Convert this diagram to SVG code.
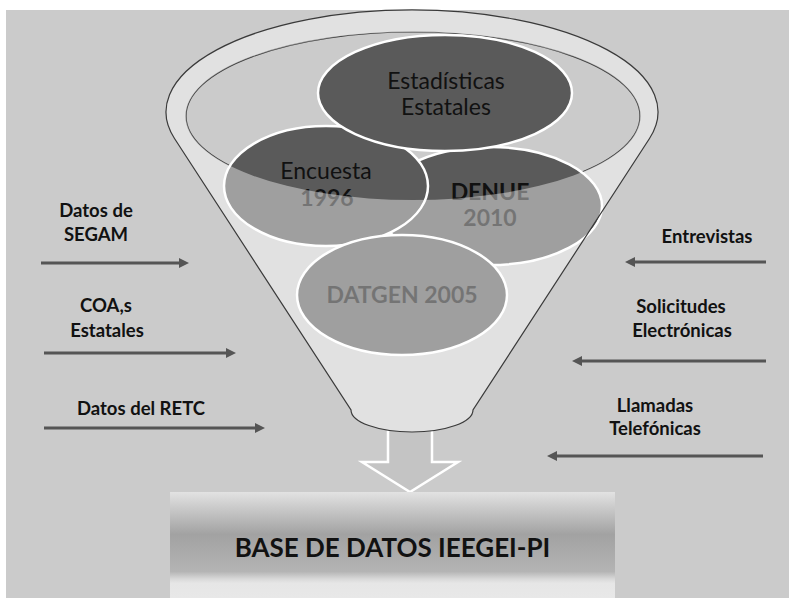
<svg xmlns="http://www.w3.org/2000/svg" width="789" height="598" viewBox="0 0 789 598">
<defs>
<style>
.lbl{font-family:Lato,"Liberation Sans",sans-serif;font-weight:bold;font-size:18.5px;fill:#111;text-anchor:middle}
.ctext{font-family:Lato,"Liberation Sans",sans-serif;font-size:23px;fill:#111;text-anchor:middle}
.b{font-weight:bold}
.circ{fill:#5a5a5a;stroke:#ffffff;stroke-width:2.5}
.conn{stroke:#555555;stroke-width:3;fill:none;marker-end:url(#ah)}
</style>
<marker id="ah" viewBox="0 0 10 10" refX="1" refY="5" markerWidth="10" markerHeight="10" markerUnits="userSpaceOnUse" orient="auto">
<path d="M0,0 L10,5 L0,10 Z" fill="#555555"/>
</marker>
<linearGradient id="boxg" x1="0" y1="0" x2="0" y2="1">
<stop offset="0" stop-color="#e2e2e2"/>
<stop offset="0.4" stop-color="#a2a2a2"/>
<stop offset="0.75" stop-color="#b4b4b4"/>
<stop offset="0.82" stop-color="#d8d8d8"/>
<stop offset="0.86" stop-color="#e6e6e6"/>
<stop offset="1" stop-color="#e8e8e8"/>
</linearGradient>
</defs>
<rect x="0" y="0" width="789" height="598" fill="#ffffff"/>
<rect x="6" y="10" width="783" height="588" fill="#cbcbcb"/>

<g id="node-arrow-down">
<path d="M388,420 L388,462 L362,462 L410,492 L458,462 L432,462 L432,420 Z" fill="#c4c4c4"/>
<path d="M388,420 L388,462 L362,462 L410,492 L458,462 L432,462 L432,420" fill="none" stroke="#ffffff" stroke-width="2.5" stroke-linejoin="miter"/>
</g>

<g id="funnel">
<path d="M174.5,138.5 A246,102 0 1 1 649.5,138.5 L473,410 A61,22 0 0 1 351,410 Z" fill="#cbcbcb"/>
<ellipse cx="413" cy="116" rx="227" ry="84" fill="none" stroke="#3a3a3a" stroke-width="1.2"/>
</g>

<g id="node-denue">
<ellipse class="circ" cx="490" cy="206" rx="112" ry="59"/>
<text class="ctext b" x="490" y="200">DENUE</text>
<text class="ctext b" x="490" y="226">2010</text>
</g>
<g id="node-encuesta">
<ellipse class="circ" cx="326" cy="186" rx="102" ry="60"/>
<text class="ctext" x="326" y="179">Encuesta</text>
<text class="ctext b" x="327" y="206">1996</text>
</g>
<g id="node-estadisticas">
<ellipse class="circ" cx="445" cy="93" rx="127" ry="58"/>
<text class="ctext" x="446" y="89">Estadísticas</text>
<text class="ctext" x="446" y="115">Estatales</text>
</g>
<g id="node-datgen">
<ellipse class="circ" cx="402" cy="295" rx="105" ry="60"/>
<text class="ctext b" x="402" y="303">DATGEN 2005</text>
</g>

<g id="funnel-front">
<path d="M174.5,138.5 A246,102 0 1 1 649.5,138.5 L473,410 A61,22 0 0 1 351,410 Z M186,116 A227,84 0 1 0 640,116 A227,84 0 1 0 186,116 Z" fill="#ffffff" fill-opacity="0.42" fill-rule="evenodd"/>
<path d="M174.5,138.5 A246,102 0 1 1 649.5,138.5 L473,410 A61,22 0 0 1 351,410 Z" fill="none" stroke="#3a3a3a" stroke-width="1.2"/>
</g>

<g id="node-base">
<rect x="170" y="492" width="445" height="106" fill="url(#boxg)"/>
<text class="lbl" x="392.5" y="557" style="font-size:26px">BASE DE DATOS IEEGEI-PI</text>
</g>

<g id="labels">
<text class="lbl" x="96" y="217">Datos de</text>
<text class="lbl" x="96" y="241">SEGAM</text>
<text class="lbl" x="106" y="312">COA,s</text>
<text class="lbl" x="107" y="337">Estatales</text>
<text class="lbl" x="141" y="415">Datos del RETC</text>
<text class="lbl" x="707" y="243">Entrevistas</text>
<text class="lbl" x="681" y="313">Solicitudes</text>
<text class="lbl" x="682" y="337">Electrónicas</text>
<text class="lbl" x="655" y="412">Llamadas</text>
<text class="lbl" x="655" y="435">Telefónicas</text>
</g>

<g id="connectors">
<line class="conn" x1="41" y1="263" x2="180" y2="263"/>
<line class="conn" x1="44" y1="353" x2="227" y2="353"/>
<line class="conn" x1="44" y1="428" x2="256" y2="428"/>
<line class="conn" x1="766" y1="262" x2="634" y2="262"/>
<line class="conn" x1="766" y1="361" x2="581" y2="361"/>
<line class="conn" x1="763" y1="456" x2="556" y2="456"/>
</g>
</svg>
